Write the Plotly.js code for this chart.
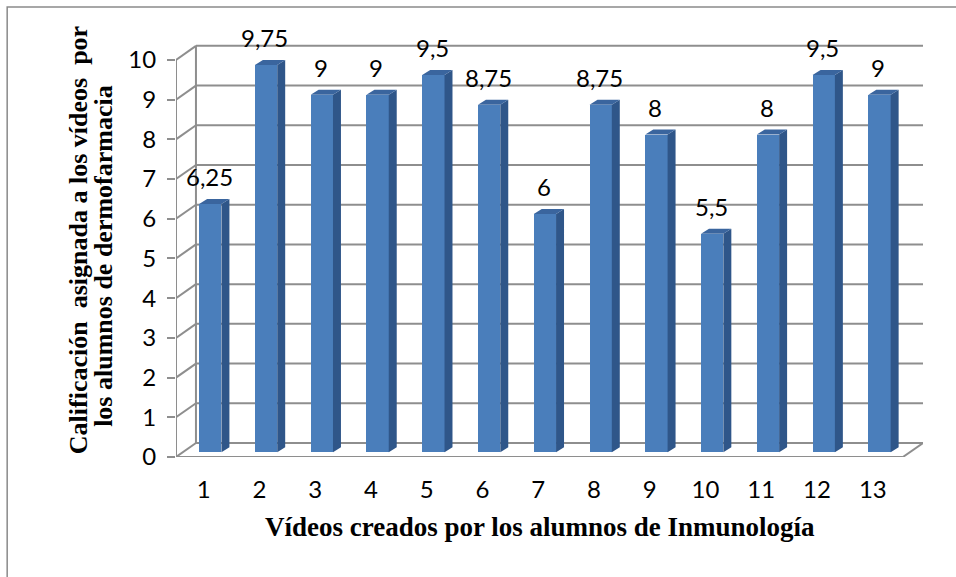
<!DOCTYPE html>
<html>
<head>
<meta charset="utf-8">
<script src="https://cdn.plot.ly/plotly-3.0.1.min.js"></script>
<style>html,body{margin:0;padding:0;background:#fff;}#chart{width:956px;height:577px;}</style>
</head>
<body>
<div id="chart"></div>
<script>
// ---- data ----
const categories = [1, 2, 3, 4, 5, 6, 7, 8, 9, 10, 11, 12, 13];
const values = [6.25, 9.75, 9, 9, 9.5, 8.75, 6, 8.75, 8, 5.5, 8, 9.5, 9];
const valueLabels = ['6,25', '9,75', '9', '9', '9,5', '8,75', '6', '8,75', '8', '5,5', '8', '9,5', '9'];
const yTicks = [0, 1, 2, 3, 4, 5, 6, 7, 8, 9, 10];
const xTitle = 'Vídeos creados por los alumnos de Inmunología';
const yTitleLine1 = 'Calificación  asignada a los vídeos  por';
const yTitleLine2 = 'los alumnos de dermofarmacia';

// ---- 3D look parameters (style) ----
const xFront = 0.505, xBackDepth = 0.358, yBackDepth = 0.353;
const xFrontRight = 13.54;
const xRange = [xFront, 13.9];
const barLeft = -0.08, barW = 0.40, barBase = 0.12, barDX = 0.143, barDY = 0.126;
const gridColor = '#8e8e8e';
const labelFont = {family: 'Lato, sans-serif', size: 24, color: '#000'};
const titleFontFamily = 'Liberation Serif, serif';

// gridline shapes (perspective back wall)
const shapes = [];
const line = (x0, y0, x1, y1) => ({type: 'line', xref: 'x', yref: 'y', x0, y0, x1, y1, layer: 'below', line: {color: gridColor, width: 2}});
yTicks.forEach(v => {
  shapes.push(line(xFront, v, xFront + xBackDepth, v + yBackDepth));
  shapes.push(line(xFront + xBackDepth, v + yBackDepth, xRange[1], v + yBackDepth));
});
const yMax = yTicks[yTicks.length - 1];
shapes.push(line(xFront + xBackDepth, yBackDepth, xFront + xBackDepth, yMax + yBackDepth));
shapes.push(line(xFront, 0, xFront, yMax));
shapes.push(line(xFront, 0, xFrontRight, 0));
shapes.push(line(xFrontRight, 0, xRange[1], yBackDepth));
// outer border
shapes.push({type: 'rect', xref: 'paper', yref: 'paper', x0: -0.226, y0: -0.6, x1: 1.2, y1: 1.0896, layer: 'below', line: {color: '#8a8a8a', width: 1.5}});

// side and top faces from data
const sx = [], sy = [], tx = [], ty = [];
categories.forEach((c, i) => {
  const v = values[i];
  const r = c + barLeft + barW;
  sx.push(r, r + barDX, r + barDX, r, r, null);
  sy.push(barBase, barBase + barDY, v + barBase + barDY, v + barBase, barBase, null);
  const l = c + barLeft;
  tx.push(l, l + barDX, r + barDX, r, l, null);
  ty.push(v + barBase, v + barBase + barDY, v + barBase + barDY, v + barBase, v + barBase, null);
});

const traces = [
  {type: 'bar', x: categories.map(c => c + barLeft + barW / 2), y: values, base: barBase, width: barW,
   marker: {color: '#4A7EBB', line: {width: 0}}, hoverinfo: 'skip', showlegend: false},
  {type: 'scatter', x: sx, y: sy, mode: 'lines', fill: 'toself', fillcolor: '#2F5689',
   line: {width: 0, color: '#2F5689'}, hoverinfo: 'skip', showlegend: false},
  {type: 'scatter', x: tx, y: ty, mode: 'lines', fill: 'toself', fillcolor: '#3A659E',
   line: {width: 0, color: '#3A659E'}, hoverinfo: 'skip', showlegend: false}
];

const annotations = categories.map((c, i) => ({
  x: c + 0.1, y: values[i] + barBase + barDY, xref: 'x', yref: 'y',
  text: valueLabels[i], showarrow: false, yanchor: 'bottom', yshift: 6,
  font: labelFont
}));
const titleFont = {family: titleFontFamily, size: 26, color: '#000', weight: 'bold'};
annotations.push({
  xref: 'paper', yref: 'paper', x: 0, y: 0.525, xshift: -98, xanchor: 'center', yanchor: 'middle',
  textangle: -90, text: yTitleLine1, showarrow: false, font: titleFont
});
annotations.push({
  xref: 'paper', yref: 'paper', x: 0, y: 0.487, xshift: -72, xanchor: 'center', yanchor: 'middle',
  textangle: -90, text: yTitleLine2, showarrow: false, font: titleFont
});
annotations.push({
  xref: 'paper', yref: 'paper', x: 0.487, y: -0.1695, xanchor: 'center', yanchor: 'middle',
  text: xTitle, showarrow: false, font: {family: titleFontFamily, size: 27, color: '#000', weight: 'bold'}
});

const layout = {
  width: 956, height: 577,
  margin: {l: 176, r: 33, t: 44, b: 120},
  paper_bgcolor: '#fff', plot_bgcolor: 'rgba(0,0,0,0)',
  bargap: 0,
  xaxis: {range: xRange, showgrid: false, zeroline: false, showline: false,
    tickvals: categories, ticktext: categories.map(String), ticks: '', ticklabelstandoff: 16,
    tickfont: labelFont},
  yaxis: {range: [0, 10.4], showgrid: false, zeroline: false, showline: false,
    tickvals: yTicks, ticktext: yTicks.map(String), ticks: 'outside', ticklen: 8, tickwidth: 2, tickcolor: gridColor,
    ticklabelstandoff: 6, tickfont: labelFont},
  shapes: shapes,
  annotations: annotations
};

Plotly.newPlot('chart', traces, layout, {displayModeBar: false, staticPlot: true});
</script>
</body>
</html>
